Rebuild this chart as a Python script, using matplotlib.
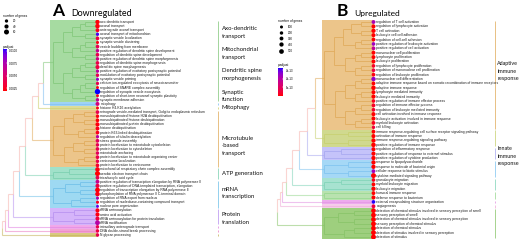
import numpy as np
import matplotlib
matplotlib.use("Agg")
import matplotlib.pyplot as plt
from matplotlib.colors import ListedColormap, Normalize
from matplotlib.cm import ScalarMappable
from matplotlib.patches import Rectangle

# ---------------- data: panel A (downregulated) ----------------
termsA = [
    "axo-dendritic transport", "axonal transport", "anterograde axonal transport",
    "axonal transport of mitochondrion", "synaptic vesicle localization",
    "synaptic vesicle clustering", "vesicle budding from membrane",
    "positive regulation of dendritic spine development",
    "regulation of dendritic spine development",
    "positive regulation of dendritic spine morphogenesis",
    "regulation of dendritic spine morphogenesis", "dendritic spine morphogenesis",
    "positive regulation of excitatory postsynaptic potential",
    "modulation of excitatory postsynaptic potential", "synaptic vesicle priming",
    "calcium ion-regulated exocytosis of neurotransmitter",
    "regulation of SNARE complex assembly", "regulation of synaptic vesicle exocytosis",
    "regulation of short-term neuronal synaptic plasticity", "synaptic membrane adhesion",
    "mitophagy", "histone H4-K16 acetylation",
    "retrograde vesicle-mediated transport, Golgi to endoplasmic reticulum",
    "monoubiquitinated histone H2A deubiquitination",
    "monoubiquitinated histone deubiquitination",
    "monoubiquitinated protein deubiquitination", "histone deubiquitination",
    "protein K63-linked deubiquitination", "regulation of tubulin deacetylation",
    "stress granule assembly", "protein localization to microtubule cytoskeleton",
    "protein localization to cytoskeleton", "microtubule anchoring",
    "protein localization to microtubule organizing center",
    "centrosome localization", "protein localization to centrosome",
    "mitochondrial respiratory chain complex assembly",
    "aerobic electron transport chain", "tricarboxylic acid cycle",
    "positive regulation of transcription elongation by RNA polymerase II",
    "positive regulation of DNA-templated transcription, elongation",
    "regulation of transcription elongation by RNA polymerase II",
    "phosphorylation of RNA polymerase II C-terminal domain",
    "regulation of RNA export from nucleus",
    "regulation of nucleobase-containing compound transport",
    "nuclear pore organization", "tRNA aminoacylation", "amino acid activation",
    "tRNA aminoacylation for protein translation", "tRNA modification",
    "intraciliary anterograde transport", "DNA double-strand break processing",
    "N-glycan processing",
]
groupsA = [0] * 20 + [1] + [2] + [3] * 14 + [4] * 3 + [5] * 7 + [6] * 4 + [7] + [8] + [9]
countsA = [45, 50, 35, 20, 30, 15, 30, 25, 30, 25, 30, 40, 20, 25, 15, 20, 12, 70, 12, 25,
           35, 12, 30, 25, 30, 40, 35, 30, 20, 30, 25, 30, 25, 30, 25, 30,
           50, 60, 35, 35, 40, 55, 50, 15, 15, 12, 40, 40, 40, 55, 25, 25, 25]
padjA = [0.0020, 0.0021, 0.0025, 0.0100, 0.0035, 0.0022, 0.0040, 0.0065, 0.0040, 0.0060,
         0.0038, 0.0035, 0.0070, 0.0042, 0.0085, 0.0040, 0.0022, 0.0104, 0.0025, 0.0068,
         0.0055, 0.0022, 0.0040, 0.0022, 0.0020, 0.0021, 0.0023, 0.0024, 0.0070, 0.0045,
         0.0042, 0.0040, 0.0045, 0.0038, 0.0040, 0.0030, 0.0021, 0.0019, 0.0040, 0.0062,
         0.0038, 0.0020, 0.0022, 0.0075, 0.0025, 0.0095, 0.0022, 0.0022, 0.0035, 0.0072,
         0.0040, 0.0035, 0.0040]
labelsA = ["Axo-dendritic\ntransport", "Mitochondrial\ntransport", "Dendritic spine\nmorphogenesis",
           "Synaptic\nfunction", "Mitophagy", "Microtubule\n-based\ntransport", "ATP generation",
           "mRNA\ntranscription", "Protein\ntranslation"]
sizeBreaksA = [20, 40, 60]
padjTicksA = [0.0025, 0.0050, 0.0075, 0.0100]

# ---------------- data: panel B (upregulated) ----------------
termsB = [
    "regulation of T cell activation", "regulation of lymphocyte activation",
    "T cell activation", "leukocyte cell-cell adhesion", "regulation of cell-cell adhesion",
    "positive regulation of leukocyte activation", "positive regulation of cell activation",
    "mononuclear cell proliferation", "lymphocyte proliferation", "leukocyte proliferation",
    "regulation of lymphocyte proliferation", "regulation of mononuclear cell proliferation",
    "regulation of leukocyte proliferation", "mononuclear cell differentiation",
    "adaptive immune response based on somatic recombination of immune receptors",
    "adaptive immune response", "lymphocyte mediated immunity", "leukocyte mediated immunity",
    "positive regulation of immune effector process", "regulation of immune effector process",
    "regulation of leukocyte mediated immunity", "cell activation involved in immune response",
    "leukocyte activation involved in immune response", "myeloid leukocyte activation",
    "cell killing",
    "immune response-regulating cell surface receptor signaling pathway",
    "activation of immune response", "immune response-regulating signaling pathway",
    "positive regulation of immune response", "regulation of inflammatory response",
    "positive regulation of response to external stimulus",
    "positive regulation of cytokine production", "response to lipopolysaccharide",
    "response to molecule of bacterial origin", "cellular response to biotic stimulus",
    "cytokine-mediated signaling pathway", "granulocyte migration",
    "myeloid leukocyte migration", "leukocyte migration", "humoral immune response",
    "defense response to bacterium", "external encapsulating structure organization",
    "angiogenesis",
    "detection of chemical stimulus involved in sensory perception of smell",
    "sensory perception of smell",
    "detection of chemical stimulus involved in sensory perception",
    "sensory perception of chemical stimulus", "detection of chemical stimulus",
    "detection of stimulus involved in sensory perception", "detection of stimulus",
]
groupsB = [0] * 25 + [1] * 4 + [2] * 3 + [3] * 4 + [4] * 3 + [5] * 2 + [6] + [7] + [8] * 7
countsB = [300, 350, 400, 350, 300, 250, 280, 330, 320, 340, 250, 260, 270, 420, 300,
           450, 350, 380, 250, 300, 260, 350, 340, 300, 200,
           300, 350, 400, 450, 350, 380, 400, 400, 400, 300, 550,
           250, 300, 400, 300, 350, 250, 300,
           500, 520, 520, 540, 520, 540, 560]
padjB = [2.2e-13, 1e-15, 1e-16, 1e-16, 2e-15, 2.4e-13, 1.8e-13, 1e-15, 1e-16, 1e-16,
         3e-14, 6e-14, 1e-14, 2.5e-13, 1e-15, 1e-16, 1e-15, 1e-16, 2e-14, 3e-14,
         4e-14, 1e-15, 1e-15, 2e-14, 5e-14,
         1e-15, 1e-16, 1e-16, 1e-16, 1e-15, 1e-15, 1e-16, 1e-16, 1e-16, 2.3e-13, 1e-16,
         2e-14, 1e-15, 1e-16, 1e-15, 2e-15, 3.2e-13, 6e-14,
         1e-15, 1e-15, 1e-15, 1e-15, 1e-15, 1e-15, 1e-15]
labelsB = ["Adaptive\nimmune\nresponse", "Innate\nimmune\nresponse"]
sizeBreaksB = [100, 200, 300, 400, 500]
padjTicksB = [1e-13, 2e-13, 3e-13]

# ---------------- styling / layout ----------------
W, H = 520, 242
fig = plt.figure(figsize=(W / 100, H / 100), dpi=100)
fig.patch.set_facecolor("white")


def fx(x):
    return x / W


def fy(y):
    return 1 - y / H


def px_axes(x0, y0, w, h):
    return fig.add_axes([x0 / W, 1 - (y0 + h) / H, w / W, h / H])


def lab_ramp(c1, c2, n=256):
    def to_lin(c):
        c = np.asarray(c, float)
        return np.where(c <= 0.04045, c / 12.92, ((c + 0.055) / 1.055) ** 2.4)

    def to_srgb(c):
        c = np.clip(c, 0, 1)
        return np.where(c <= 0.0031308, 12.92 * c, 1.055 * c ** (1 / 2.4) - 0.055)

    M = np.array([[0.4124, 0.3576, 0.1805], [0.2126, 0.7152, 0.0722], [0.0193, 0.1192, 0.9505]])
    Mi = np.linalg.inv(M)
    wp = np.array([0.95047, 1.0, 1.08883])
    d = 6 / 29

    def f(t):
        return np.where(t > d ** 3, np.cbrt(t), t / (3 * d * d) + 4 / 29)

    def finv(t):
        return np.where(t > d, t ** 3, 3 * d * d * (t - 4 / 29))

    def lab(c):
        X = M @ to_lin(c) / wp
        fX, fY, fZ = f(X)
        return np.array([116 * fY - 16, 500 * (fX - fY), 200 * (fY - fZ)])

    L1, L2 = lab(c1), lab(c2)
    out = []
    for t in np.linspace(0, 1, n):
        L, a, b = L1 + (L2 - L1) * t
        fY = (L + 16) / 116
        XYZ = finv(np.array([fY + a / 500, fY, fY - b / 200])) * wp
        out.append(to_srgb(Mi @ XYZ))
    return ListedColormap(np.array(out))


cmap = lab_ramp((1, 0, 0), (0, 0, 1))
SALMON = "#f6b3ad"
TERM_FONT = dict(family="Liberation Sans", fontsize=2.45, color="#1a1a1a")


def dot_size(counts, d0, k):
    d = d0 + k * np.asarray(counts, float)
    return (0.72 * d) ** 2


def draw_cluster(ax, rows, x_root, x_tip, color, lw=0.55):
    N = len(rows)

    def xh(size):
        return x_tip - (x_tip - x_root) * (np.log2(size) / np.log2(N))

    def rec(rs, x):
        h = (len(rs) + 1) // 2
        ys = []
        for part in (rs[:h], rs[h:]):
            if len(part) == 1:
                cy, cx = part[0], x_tip
            else:
                cx = xh(len(part))
                cy = rec(part, cx)
            ax.plot([x, cx], [cy, cy], color=color, lw=lw, solid_capstyle="butt")
            ys.append(cy)
        ax.plot([x, x], [ys[0], ys[1]], color=color, lw=lw, solid_capstyle="butt")
        return (ys[0] + ys[1]) / 2

    return rec(list(rows), x_root)


def draw_panel(ax, terms, groups, counts, padj, norm, cfg):
    n = len(terms)
    rows = np.arange(n)
    groups = np.asarray(groups)
    ax.set_xlim(0, 260)
    ax.set_ylim(n - 0.5, -0.5)
    ax.axis("off")
    roots = []
    for g in range(groups.max() + 1):
        rg = rows[groups == g]
        ax.add_patch(Rectangle((cfg["band_x0"], rg[0] - 0.5), cfg["band_x1"] - cfg["band_x0"],
                               len(rg), facecolor=cfg["bands"][g], lw=0, zorder=0))
        lc = cfg["lines"][g]
        if len(rg) > 1:
            ry = draw_cluster(ax, rg, cfg["root_x"], cfg["tip_x"], lc)
            roots.append((ry, cfg["root_x"], lc))
        else:
            roots.append((rg[0], cfg["tip_x"], lc))
        ax.plot([cfg["mk_x"]] * 2, [rg[0] - 0.3, rg[-1] + 0.3], color=lc, lw=0.7, alpha=0.75,
                solid_capstyle="butt")
    py, pxx, pc = roots[0]
    for k, xm in enumerate(cfg["merge_x"], start=1):
        cy, cx, cc = roots[k]
        mid = (py + cy) / 2
        kw = dict(lw=0.8, alpha=0.55, solid_capstyle="butt")
        ax.plot([xm, xm], [py, mid], color=pc, **kw)
        ax.plot([xm, xm], [mid, cy], color=cc, **kw)
        ax.plot([xm, pxx], [py, py], color=pc, **kw)
        ax.plot([xm, cx], [cy, cy], color=cc, **kw)
        py, pxx, pc = mid, xm, SALMON
    ax.scatter(np.full(n, cfg["dot_x"]), rows, s=dot_size(counts, *cfg["size_map"]),
               c=padj, cmap=cmap, norm=norm, lw=0, zorder=4)
    for i, t in enumerate(terms):
        ax.text(cfg["text_x"], i, t, va="center", ha="left", **TERM_FONT)
    for t, r in zip(cfg["labels"], cfg["label_rows"]):
        ax.text(cfg["mk_x"] + cfg["lab_dx"], r, t, va="center", ha="left", family="Lato",
                fontsize=cfg["lab_fs"], color="#111111", linespacing=1.6)


def draw_legend(x0, y0, breaks, dot_ys, size_map, norm, ticks, fmt, cb_box, title_y):
    lg = px_axes(x0, y0, 60, 100)
    lg.set_xlim(0, 60)
    lg.set_ylim(100, 0)
    lg.axis("off")
    lg.text(0, 0, "number of genes", fontsize=2.3, family="Liberation Sans", va="center")
    lg.scatter(np.full(len(breaks), 3.5), dot_ys, s=dot_size(breaks, *size_map), c="black", lw=0)
    for b, yy in zip(breaks, dot_ys):
        lg.text(10, yy, str(b), fontsize=2.2, family="Liberation Sans", va="center")
    lg.text(0, title_y, "p.adjust", fontsize=2.3, family="Liberation Sans", va="center")
    cx, cyy, cw, ch = cb_box
    cax = px_axes(cx, cyy, cw, ch)
    cb = fig.colorbar(ScalarMappable(norm=norm, cmap=cmap), cax=cax)
    cb.outline.set_visible(False)
    cb.set_ticks(ticks)
    cb.set_ticklabels([fmt(t) for t in ticks])
    cax.tick_params(length=0.8, width=0.3, color="white", direction="in", pad=2,
                    labelsize=2.2)
    for lbl in cax.get_yticklabels():
        lbl.set_family("Liberation Sans")


# ---------------- panel A ----------------
nA, nB = len(termsA), len(termsB)
sA = (235 - 22) / (nA - 1)
axA = px_axes(0, 22 - sA / 2, 260, sA * nA)
normA = Normalize(0.0019, 0.0104)
cfgA = dict(
    band_x0=50, band_x1=97.5, root_x=53, tip_x=95, dot_x=97.5, text_x=100.5, mk_x=218,
    merge_x=[43, 38, 32, 25, 19, 13, 8, 4.5, 1.5], size_map=(2.45, 0.0425),
    bands=["#a6dba1", "#9fd3f7", "#dedc98", "#ecc58a", "#a1e1c9", "#9ed9f2", "#d5b4fa",
           "#f1a9ea", "#f2a3d3", "#d8ca80"],
    lines=["#82c87a", "#7cbcf0", "#cccc66", "#e0aa5a", "#7ad0b0", "#70c0e8", "#b892f0",
           "#e080e0", "#ea7ac2", "#c4b256"],
    labels=labelsA, label_rows=[2.6, 7.7, 12.8, 18.0, 20.9, 30.2, 37.0, 41.8, 48.0],
    lab_fs=4.3, lab_dx=3.5,
)
draw_panel(axA, termsA, groupsA, countsA, padjA, normA, cfgA)

# ---------------- panel B ----------------
sB = (237 - 22) / (nB - 1)
axB = px_axes(260, 22 - sB / 2, 260, sB * nB)
normB = Normalize(0.0, 3.24e-13)
cfgB = dict(
    band_x0=62, band_x1=113.5, root_x=64, tip_x=111, dot_x=113.5, text_x=116.5, mk_x=234.5,
    merge_x=[55, 47, 39, 32, 26, 22, 19.5, 17], size_map=(2.6, 0.0042),
    bands=["#ecc58a", "#d0d98f", "#c5c3fa", "#a5d8f6", "#a7e2d0", "#b9e2af", "#eeabee",
           "#f6cdea", "#9ecf7e"],
    lines=["#e0aa5a", "#c8d070", "#a8a8f0", "#80c4f0", "#80d4b8", "#98d890", "#e090e0",
           "#f0a8d8", "#88c468"],
    labels=labelsB, label_rows=[11.2, 30.6], lab_fs=3.9, lab_dx=2.8,
)
draw_panel(axB, termsB, groupsB, countsB, padjB, normB, cfgB)

# ---------------- titles ----------------
fig.text(fx(52.5), fy(16), "A", fontsize=12.5, fontweight="bold", family="Lato", va="baseline")
fig.text(fx(71.5), fy(16), "Downregulated", fontsize=6.4, family="Lato", va="baseline")
fig.text(fx(337), fy(16), "B", fontsize=12.5, fontweight="bold", family="Lato", va="baseline")
fig.text(fx(354.5), fy(16), "Upregulated", fontsize=6.0, family="Lato", va="baseline")

# ---------------- legends ----------------
draw_legend(3, 16, sizeBreaksA, [5, 10.5, 16], (2.45, 0.0425), normA, padjTicksA,
            lambda v: f"{v:.4f}", (3, 49, 3.5, 42), 31)
draw_legend(278, 21, sizeBreaksB, [6, 12, 17.5, 23.5, 30.5], (2.6, 0.0042), normB, padjTicksB,
            lambda v: f"{v:.0e}", (278, 68, 5, 28), 44)

fig.savefig("out.png", dpi=100, facecolor="white")
